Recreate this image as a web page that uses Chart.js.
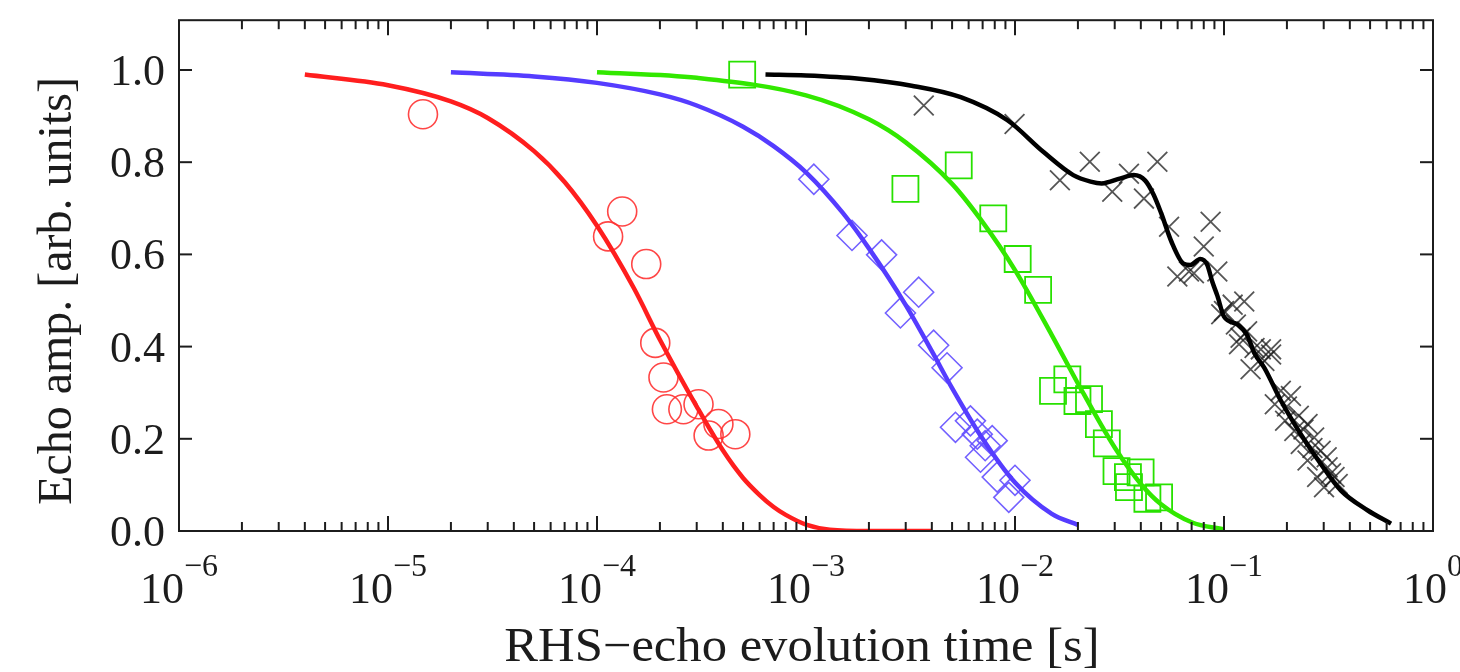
<!DOCTYPE html>
<html>
<head>
<meta charset="utf-8">
<script src="https://cdn.jsdelivr.net/npm/chart.js@4/dist/chart.umd.min.js"></script>
<style>
  html, body { margin: 0; padding: 0; background: #fff; }
  #wrap { width: 1460px; height: 672px; }
</style>
</head>
<body>
<div id="wrap"><canvas id="chart" width="1460" height="672"></canvas></div>
<script>
// ---- measured echo amplitudes (time in seconds) ----
const redMarkT   = [1.47e-5, 1.13e-4, 1.32e-4, 1.72e-4, 1.90e-4, 2.08e-4, 2.16e-4, 2.59e-4, 3.06e-4, 3.42e-4, 3.81e-4, 4.59e-4];
const redMarkAmp = [0.904, 0.639, 0.693, 0.579, 0.408, 0.333, 0.264, 0.264, 0.275, 0.207, 0.232, 0.210];

const blueMarkT   = [1.09e-3, 1.66e-3, 2.30e-3, 2.83e-3, 3.46e-3, 4.08e-3, 4.73e-3, 5.19e-3, 6.12e-3, 6.60e-3, 6.84e-3, 7.20e-3, 7.78e-3, 8.22e-3, 9.34e-3, 1.00e-2];
const blueMarkAmp = [0.763, 0.641, 0.599, 0.473, 0.518, 0.403, 0.354, 0.225, 0.239, 0.210, 0.160, 0.185, 0.196, 0.117, 0.073, 0.110];

const greenMarkT   = [4.95e-4, 2.99e-3, 5.38e-3, 7.87e-3, 1.03e-2, 1.29e-2, 1.52e-2, 1.78e-2, 1.99e-2, 2.26e-2, 2.52e-2, 2.75e-2, 3.06e-2, 3.47e-2, 3.51e-2, 3.99e-2, 4.30e-2, 4.89e-2];
const greenMarkAmp = [0.990, 0.742, 0.793, 0.678, 0.590, 0.523, 0.304, 0.329, 0.282, 0.286, 0.232, 0.190, 0.130, 0.117, 0.095, 0.127, 0.070, 0.073];

const blackMarkT   = [3.66e-3, 9.95e-3, 1.64e-2, 2.28e-2, 2.92e-2, 3.51e-2, 4.14e-2, 4.80e-2, 5.46e-2, 5.98e-2, 6.80e-2, 7.18e-2, 8.00e-2, 8.63e-2, 9.29e-2,
                      0.097, 0.100, 0.110, 0.114, 0.118, 0.120, 0.125, 0.129, 0.134, 0.140, 0.150, 0.156, 0.168, 0.168, 0.175, 0.187, 0.196, 0.200,
                      0.209, 0.217, 0.228, 0.233, 0.240, 0.251, 0.251, 0.265, 0.270, 0.279, 0.290, 0.301, 0.310, 0.313, 0.325, 0.338, 0.350];
const blackMarkAmp = [0.923, 0.883, 0.761, 0.801, 0.736, 0.775, 0.721, 0.801, 0.660, 0.552, 0.563, 0.559, 0.617, 0.671, 0.563,
                      0.470, 0.477, 0.491, 0.448, 0.405, 0.419, 0.498, 0.433, 0.351, 0.397, 0.394, 0.369, 0.394, 0.383, 0.275, 0.304, 0.239, 0.270,
                      0.293, 0.217, 0.250, 0.189, 0.220, 0.232, 0.153, 0.180, 0.203, 0.117, 0.174, 0.095, 0.160, 0.138, 0.125, 0.117, 0.102];

// ---- fitted decay curves ----
const redFitT   = [4e-6, 1e-5, 2e-5, 3e-5, 5e-5, 7e-5, 1e-4, 1.5e-4, 2e-4, 3e-4, 4e-4, 5e-4, 6e-4, 7e-4, 8e-4, 1e-3, 1.3e-3, 2e-3, 4e-3];
const redFitAmp = [0.990, 0.967, 0.932, 0.896, 0.824, 0.757, 0.662, 0.527, 0.415, 0.270, 0.175, 0.115, 0.078, 0.052, 0.035, 0.014, 0.003, 0.0, 0.0];

const blueFitT   = [2e-5, 5e-5, 1e-4, 2e-4, 3e-4, 5e-4, 7e-4, 1e-3, 1.5e-3, 2e-3, 3e-3, 4e-3, 5e-3, 7e-3, 1e-2, 1.5e-2, 2e-2];
const blueFitAmp = [0.995, 0.986, 0.972, 0.947, 0.923, 0.877, 0.835, 0.778, 0.690, 0.613, 0.490, 0.390, 0.310, 0.200, 0.105, 0.037, 0.013];

const greenFitT   = [1e-4, 3e-4, 1e-3, 2e-3, 3e-3, 5e-3, 7e-3, 1e-2, 1.5e-2, 2e-2, 3e-2, 4e-2, 5e-2, 7e-2, 1e-1];
const greenFitAmp = [0.995, 0.983, 0.945, 0.893, 0.843, 0.753, 0.670, 0.566, 0.425, 0.320, 0.181, 0.102, 0.058, 0.019, 0.003];

const blackFitT   = [6.4e-4, 1e-3, 1.8e-3, 3.2e-3, 5.5e-3, 9.2e-3, 1.37e-2, 1.9e-2, 2.3e-2, 2.6e-2, 3.2e-2, 3.7e-2, 4.2e-2, 4.6e-2, 5.0e-2, 5.6e-2,
                     6.4e-2, 6.9e-2, 7.7e-2, 8.3e-2, 8.8e-2, 9.3e-2, 0.100, 0.116, 0.129, 0.140, 0.156, 0.187, 0.233, 0.290, 0.362, 0.486, 0.630];
const blackFitAmp = [0.990, 0.988, 0.981, 0.966, 0.941, 0.891, 0.822, 0.772, 0.758, 0.754, 0.765, 0.772, 0.760, 0.730, 0.690, 0.628,
                     0.580, 0.577, 0.590, 0.578, 0.540, 0.510, 0.465, 0.448, 0.425, 0.385, 0.354, 0.283, 0.210, 0.146, 0.088, 0.045, 0.016];

// ---- axis ticks and titles ----
const xExponents = [-6, -5, -4, -3, -2, -1, 0];
const yTicks = [0.0, 0.2, 0.4, 0.6, 0.8, 1.0];
const xTitle = 'RHS\u2212echo evolution time [s]';
const yTitle = 'Echo amp. [arb. units]';

const pts = (t, a) => t.map((v, i) => ({ x: v, y: a[i] }));

const FONT = '"Liberation Serif", "Times New Roman", serif';
const INK = '#1c1c1c';

// frame, inward ticks, labels and titles
const axisFrame = {
  id: 'axisFrame',
  afterDraw(chart) {
    const { ctx, chartArea: a, scales: { x, y } } = chart;
    ctx.save();
    ctx.strokeStyle = INK;
    ctx.fillStyle = INK;
    ctx.lineWidth = 2;
    ctx.strokeRect(a.left, a.top, a.right - a.left, a.bottom - a.top);

    const seg = (x0, y0, x1, y1) => { ctx.beginPath(); ctx.moveTo(x0, y0); ctx.lineTo(x1, y1); ctx.stroke(); };

    // x ticks (major + minor) on bottom and top
    xExponents.forEach((e, i) => {
      const px = x.getPixelForValue(Math.pow(10, e));
      seg(px, a.bottom, px, a.bottom - 15);
      seg(px, a.top, px, a.top + 15);
      if (i < xExponents.length - 1) {
        for (let k = 2; k <= 9; k++) {
          const mx = x.getPixelForValue(k * Math.pow(10, e));
          seg(mx, a.bottom, mx, a.bottom - 9);
          seg(mx, a.top, mx, a.top + 9);
        }
      }
    });
    // y ticks on left and right
    yTicks.forEach(v => {
      const py = y.getPixelForValue(v);
      seg(a.left, py, a.left + 13, py);
      seg(a.right, py, a.right - 13, py);
    });

    // y tick labels
    ctx.font = '44px ' + FONT;
    ctx.textAlign = 'right';
    ctx.textBaseline = 'alphabetic';
    yTicks.forEach(v => {
      const py = y.getPixelForValue(v);
      ctx.fillText(v.toFixed(1), a.left - 14, py + 15);
    });

    // x tick labels: 10 with superscript exponent
    ctx.textAlign = 'left';
    xExponents.forEach(e => {
      const px = x.getPixelForValue(Math.pow(10, e));
      const base = '10';
      const sup = e === 0 ? '0' : '\u2212' + Math.abs(e);
      ctx.font = '44px ' + FONT;
      const wb = ctx.measureText(base).width;
      ctx.font = '32px ' + FONT;
      const ws = ctx.measureText(sup).width;
      const x0 = px - (wb + ws) / 2;
      ctx.font = '44px ' + FONT;
      ctx.fillText(base, x0, 603);
      ctx.font = '32px ' + FONT;
      ctx.fillText(sup, x0 + wb, 576);
    });

    // axis titles
    ctx.font = '48px ' + FONT;
    ctx.textAlign = 'center';
    ctx.save();
    ctx.translate((a.left + a.right) / 2 - 4, 661);
    ctx.scale(1.055, 1);
    ctx.fillText(xTitle, 0, 0);
    ctx.restore();
    ctx.save();
    ctx.translate(71, 291);
    ctx.rotate(-Math.PI / 2);
    ctx.fillText(yTitle, 0, 0);
    ctx.restore();

    ctx.restore();
  }
};

const markerSet = (t, a, style, color, radius, width) => ({
  data: pts(t, a),
  showLine: false,
  pointStyle: style,
  pointRadius: radius,
  pointBorderColor: color,
  pointBackgroundColor: 'rgba(0,0,0,0)',
  pointBorderWidth: width,
  order: 2
});
const curveSet = (t, a, color, width) => ({
  data: pts(t, a),
  showLine: true,
  pointRadius: 0,
  borderColor: color,
  borderWidth: width,
  cubicInterpolationMode: 'monotone',
  fill: false,
  order: 1
});

new Chart(document.getElementById('chart'), {
  type: 'scatter',
  data: {
    datasets: [
      curveSet(redFitT, redFitAmp, 'rgb(255,30,30)', 4.5),
      curveSet(blueFitT, blueFitAmp, 'rgb(85,60,255)', 4.5),
      curveSet(greenFitT, greenFitAmp, 'rgb(50,232,0)', 4.5),
      curveSet(blackFitT, blackFitAmp, 'rgb(0,0,0)', 4.5),
      markerSet(redMarkT, redMarkAmp, 'circle', 'rgba(255,50,50,0.9)', 14.5, 1.6),
      markerSet(blueMarkT, blueMarkAmp, 'rectRot', 'rgba(100,80,255,0.9)', 15, 1.6),
      markerSet(greenMarkT, greenMarkAmp, 'rect', 'rgba(40,225,0,1)', 18.4, 1.8),
      markerSet(blackMarkT, blackMarkAmp, 'crossRot', 'rgba(30,30,30,0.75)', 14, 1.8)
    ]
  },
  options: {
    responsive: false,
    animation: false,
    devicePixelRatio: 1,
    events: [],
    layout: { padding: { left: 179, right: 27, top: 17, bottom: 141 } },
    plugins: { legend: { display: false }, tooltip: { enabled: false } },
    scales: {
      x: { type: 'logarithmic', min: 1e-6, max: 1, display: false },
      y: { type: 'linear', min: 0, max: 1.108, display: false }
    }
  },
  plugins: [axisFrame]
});
</script>
</body>
</html>
